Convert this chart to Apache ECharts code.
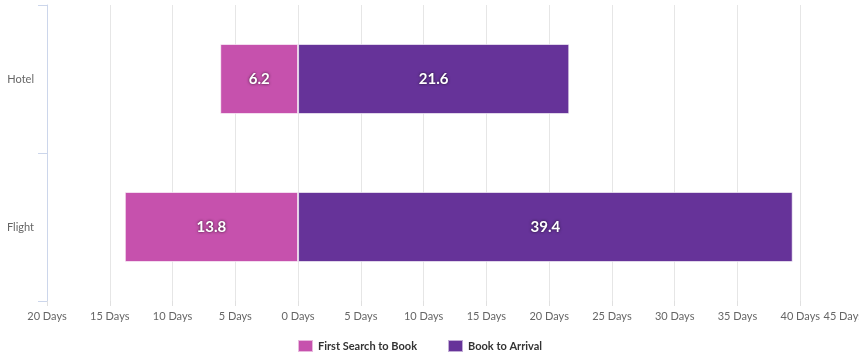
<!DOCTYPE html>
<html>
<head>
<meta charset="utf-8">
<script src="https://cdn.jsdelivr.net/npm/echarts@6/dist/echarts.min.js"></script>
<style>
  html, body { margin: 0; padding: 0; background: #fff; }
  #chart { width: 859px; height: 356px; }
</style>
</head>
<body>
<div id="chart"></div>
<script>
// Travel planning lead times, in days
const categories = ['Hotel', 'Flight'];
const searchToBook = [6.2, 13.8];     // drawn to the left of zero
const bookToArrival = [21.6, 39.4];   // drawn to the right of zero
const seriesNames = ['First Search to Book', 'Book to Arrival'];
const axisMin = -20, axisMax = 45, axisStep = 5;

const chart = echarts.init(document.getElementById('chart'));

const valueLabel = {
  show: true,
  position: 'inside',
  color: '#fff',
  fontFamily: 'Lato, "Open Sans", sans-serif',
  fontWeight: 'bold',
  fontSize: 15,
  textShadowColor: 'rgba(0,0,0,0.75)',
  textShadowBlur: 3,
  formatter: p => Math.abs(p.value).toString()
};

chart.setOption({
  animation: false,
  textStyle: { fontFamily: 'Lato, "Open Sans", sans-serif' },
  grid: { left: 47, width: 816, top: 5, bottom: 55, containLabel: false, outerBoundsMode: 'none' },
  legend: {
    bottom: 3,
    left: 297,
    padding: 0,
    itemWidth: 15,
    itemHeight: 12,
    itemGap: 30,
    icon: 'rect',
    textStyle: { color: '#333', fontWeight: 'bold', fontSize: 11 },
    data: seriesNames
  },
  xAxis: {
    type: 'value',
    min: axisMin,
    max: axisMax,
    interval: axisStep,
    axisLine: { show: false },
    axisTick: { show: true, length: 5, lineStyle: { color: '#e0e0e0' } },
    axisLabel: {
      color: '#666',
      fontSize: 11,
      margin: 10,
      alignMaxLabel: 'right',
      formatter: v => Math.abs(v) + ' Days'
    },
    splitLine: { show: true, lineStyle: { color: '#e6e6e6', width: 1 } }
  },
  yAxis: {
    type: 'category',
    data: categories,
    inverse: true,
    axisLine: { show: true, onZero: false, lineStyle: { color: '#ccd6eb' } },
    axisTick: { show: true, length: 9, lineStyle: { color: '#ccd6eb' } },
    axisLabel: { color: '#666', fontSize: 11, margin: 13 },
    splitLine: { show: false }
  },
  series: [
    {
      name: seriesNames[0],
      type: 'bar',
      stack: 'lead',
      barWidth: 70,
      data: searchToBook.map(v => -v),
      itemStyle: { color: '#c651ad', borderColor: 'rgba(255,255,255,0.6)', borderWidth: 1 },
      label: valueLabel
    },
    {
      name: seriesNames[1],
      type: 'bar',
      stack: 'lead',
      barWidth: 70,
      data: bookToArrival,
      itemStyle: { color: '#663399', borderColor: 'rgba(255,255,255,0.6)', borderWidth: 1 },
      label: valueLabel
    }
  ]
});
</script>
</body>
</html>
